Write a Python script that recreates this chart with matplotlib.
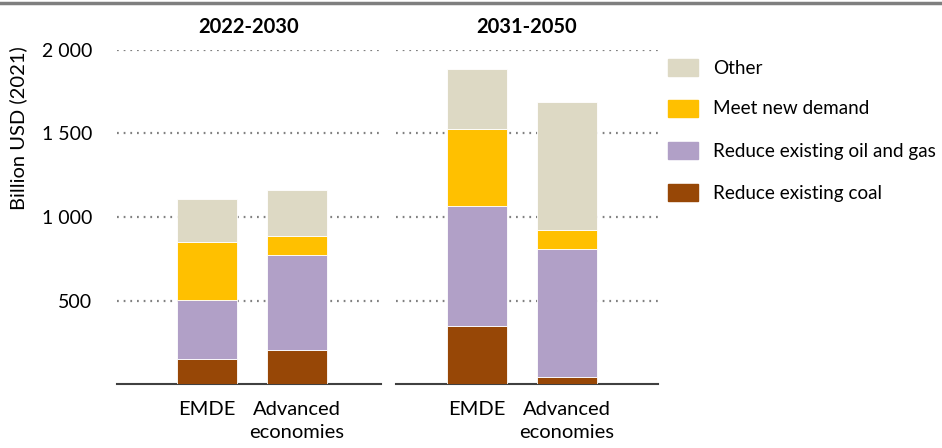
import matplotlib
matplotlib.use("Agg")
import matplotlib.pyplot as plt
from matplotlib.patches import Rectangle
from matplotlib.lines import Line2D

plt.rcParams['font.family'] = ['Lato', 'DejaVu Sans']

periods = ["2022-2030", "2031-2050"]
categories = ["EMDE", "Advanced\neconomies"]
series_names = ["Reduce existing coal", "Reduce existing oil and gas", "Meet new demand", "Other"]
colors = ["#974706", "#B1A0C7", "#FFC000", "#DDD9C4"]
# values[period] -> [EMDE, Advanced]
coal = {"2022-2030": [150, 205], "2031-2050": [350, 40]}
oil_gas = {"2022-2030": [355, 565], "2031-2050": [715, 770]}
new_demand = {"2022-2030": [345, 115], "2031-2050": [460, 115]}
other = {"2022-2030": [260, 275], "2031-2050": [360, 765]}
yticks = [500, 1000, 1500, 2000]
ytick_labels = ["500", "1 000", "1 500", "2 000"]

W, H = 942, 448
fig = plt.figure(figsize=(W/100, H/100), dpi=100)

# top rule
fig.add_artist(Line2D([0, 1], [1 - 3/H, 1 - 3/H], color="#7F7F7F", lw=2.5, transform=fig.transFigure))

panels = [(117, 381), (396, 658)]
xlims = [(-1.0, 1.933), (-0.9, 2.01)]
top_px, bot_px = 50, 384
for i, (p, (l, r)) in enumerate(zip(periods, panels)):
    ax = fig.add_axes([l/W, 1 - bot_px/H, (r-l)/W, (bot_px-top_px)/H])
    x = [0, 1]
    bottom = [0, 0]
    for name, data, c in zip(series_names, [coal, oil_gas, new_demand, other], colors):
        vals = data[p]
        ax.bar(x, vals, bottom=bottom, width=0.667, color=c, edgecolor="white", linewidth=0.6, zorder=3)
        bottom = [b + v for b, v in zip(bottom, vals)]
    ax.set_xlim(*xlims[i])
    ax.set_ylim(0, 2000)
    for yv in yticks:
        ax.axhline(yv, color="#808080", lw=1.6, ls=(0, (0.8, 2.2)), zorder=1)
    for s in ["top", "right", "left"]:
        ax.spines[s].set_visible(False)
    ax.spines["bottom"].set_color("#404040")
    ax.spines["bottom"].set_linewidth(1.5)
    ax.set_xticks(x)
    ax.set_xticklabels(categories, fontsize=14.5, linespacing=1.45)
    ax.tick_params(axis="x", length=0, pad=12)
    ax.set_yticks(yticks)
    if i == 0:
        ax.set_yticklabels(ytick_labels, fontsize=14)
        ax.tick_params(axis="y", length=0, pad=18)
    else:
        ax.set_yticklabels([])
        ax.tick_params(axis="y", length=0)
    ax.set_title(p, fontsize=14.5, fontweight="bold", pad=12)

fig.text(18/W, 1 - 128/H, "Billion USD (2021)", fontsize=14.5, rotation=90, ha="center", va="center")

# legend
leg_items = list(zip(series_names, colors))[::-1]
ys = [68, 109, 151, 193]
for (name, c), yp in zip(leg_items, ys):
    fig.add_artist(Rectangle((668/W, 1 - (yp+8)/H), 30/W, 17/H, color=c, transform=fig.transFigure))
    fig.text(713/W, 1 - yp/H, name, fontsize=13.6, va="center", ha="left")

fig.savefig("out.png", dpi=100)
